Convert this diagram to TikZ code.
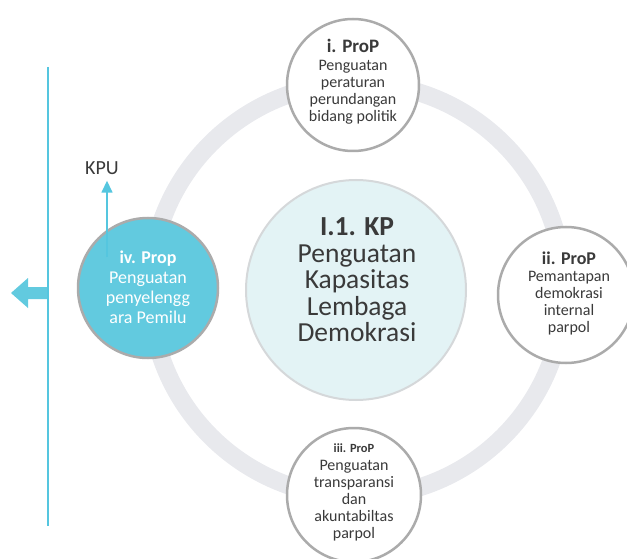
\documentclass[tikz,border=0pt]{standalone}
\usepackage{fontspec}
\setmainfont{Carlito}
\usetikzlibrary{arrows.meta}
\definecolor{cyanline}{HTML}{55C6DF}
\definecolor{cyanfill}{HTML}{62CADF}
\definecolor{ringgray}{HTML}{E8E9ED}
\definecolor{bordergray}{HTML}{ABABAB}
\definecolor{centerfill}{HTML}{E3F3F5}
\definecolor{centerborder}{HTML}{D5D8DA}
\definecolor{txt}{HTML}{3A3A3A}
\begin{document}
\begin{tikzpicture}[x=1pt,y=-1pt,
  satcircle/.style={circle, draw=bordergray, line width=2.5pt, fill=white, minimum size=#1, inner sep=0pt},
  sattext/.style={align=center, text=txt, inner sep=0pt, font=\fontsize{16}{17}\selectfont},
  lefttext/.style={align=center, text=white, inner sep=0pt, font=\fontsize{18}{20}\selectfont},
  maintext/.style={align=center, text=txt, inner sep=0pt, font=\fontsize{27.5}{26.5}\selectfont},
  kpuarrow/.style={draw=cyanline, line width=1.5pt, -{Triangle[width=11pt,length=12pt]}},
]
\useasboundingbox (0,0) rectangle (627,559);
% ring
\draw[ringgray, line width=18pt] (357,290) circle[radius=207];
% center
\node[circle, draw=centerborder, line width=2pt, fill=centerfill, minimum size=220pt, inner sep=0pt] (kp) at (356,290) {};
\node[maintext] (kpt) at (357,280) {{\bfseries I.1. KP}\\Penguatan\\Kapasitas\\Lembaga\\Demokrasi};
% top
\node[satcircle=132pt] (p1) at (353,85) {};
\node[sattext] (p1t) at (353,82) {{\fontsize{19}{19}\selectfont\bfseries i. ProP}\\[1pt]Penguatan\\peraturan\\perundangan\\bidang politik};
% right
\node[satcircle=136pt] (p2) at (566,295) {};
\node[sattext] (p2t) at (569,293) {{\fontsize{18}{18}\selectfont\bfseries ii. ProP}\\Pemantapan\\demokrasi\\internal\\parpol};
% bottom
\node[satcircle=134pt] (p3) at (354,495) {};
\node[sattext] (p3t) at (354,492) {{\fontsize{12.5}{12.5}\selectfont\bfseries iii. ProP}\\[1pt]Penguatan\\transparansi\\dan\\akuntabiltas\\parpol};
% left
\node[satcircle=140pt, fill=cyanfill] (p4) at (148,288) {};
\coordinate (kpus) at (107,257);
\node[text=txt, font=\fontsize{20}{20}\selectfont, inner sep=0pt] (kpu) at (102,168) {KPU};
\draw[kpuarrow, shorten >=6pt] (kpus) -- (kpus |- kpu.south);
\node[lefttext] (p4t) at (148,287) {{\bfseries iv. Prop}\\Penguatan\\penyelengg\\ara Pemilu};
% vertical line
\coordinate (vt) at (47.5,67);
\coordinate (vb) at (47.5,526);
\draw[cyanline, line width=2pt] (vt) -- (vb);
% big arrow
\fill[cyanfill] (47,287) -- (28,287) -- (28,278) -- (11,293) -- (28,308) -- (28,299) -- (47,299) -- cycle;
\end{tikzpicture}
\end{document}
